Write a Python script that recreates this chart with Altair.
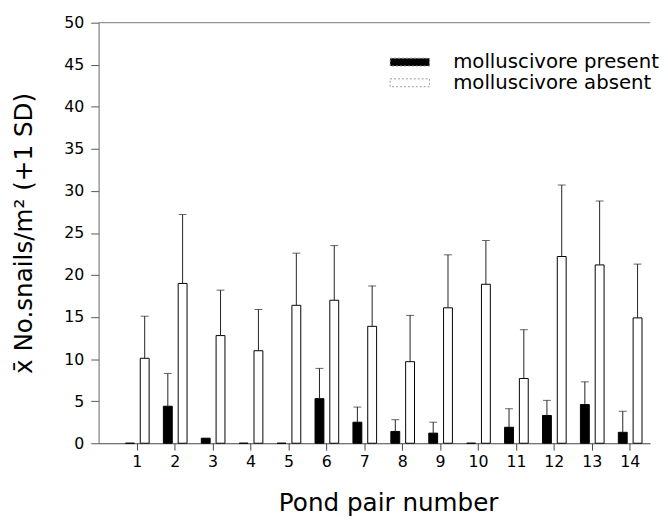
import altair as alt
import pandas as pd

pairs = list(range(1, 15))
present_mean = [0, 4.4, 0.6, 0, 0, 5.3, 2.5, 1.4, 1.2, 0, 1.9, 3.3, 4.6, 1.3]
present_sd = [0, 3.9, 0, 0, 0, 3.6, 1.8, 1.4, 1.3, 0, 2.2, 1.8, 2.7, 2.5]
absent_mean = [10.1, 19.0, 12.8, 11.0, 16.4, 17.0, 13.9, 9.7, 16.1, 18.9, 7.7, 22.2, 21.2, 14.9]
absent_sd = [5.0, 8.2, 5.4, 4.9, 6.2, 6.5, 4.8, 5.5, 6.3, 5.2, 5.8, 8.5, 7.6, 6.4]
groups = ["molluscivore present", "molluscivore absent"]
y_ticks = list(range(0, 55, 5))

rows = []
for i, p in enumerate(pairs):
    rows.append({"pair": p, "group": groups[0], "mean": present_mean[i], "sd": present_sd[i]})
    rows.append({"pair": p, "group": groups[1], "mean": absent_mean[i], "sd": absent_sd[i]})
df = pd.DataFrame(rows)
df["top"] = df["mean"] + df["sd"]

FONT = "DejaVu Sans"
Y_TITLE = "x̄  No.snails/m²  (+1 SD)"

x_scale = alt.Scale(paddingInner=0, paddingOuter=0.274, align=0.95)
x_axis = alt.Axis(
    title="Pond pair number", labelAngle=0, labelFont=FONT, labelFontSize=16,
    labelColor="black", labelPadding=4, tickSize=7, tickColor="#444",
    domainColor="#444", titleFont=FONT, titleFontSize=25, titleFontWeight="normal",
    titleColor="black", titleX=294, titleY=68, titleBaseline="alphabetic",
    titleAlign="center",
)
y_scale = alt.Scale(domain=[0, 50], nice=False)
y_axis = alt.Axis(
    title=Y_TITLE, values=y_ticks, grid=False,
    labelFont=FONT, labelFontSize=16, labelColor="black", labelPadding=7,
    tickSize=8, tickColor="#555", domainColor="#666",
    titleFont=FONT, titleFontSize=25, titleFontWeight="normal", titleColor="black",
    titlePadding=28, titleLimit=1000,
)

x_enc = alt.X("pair:O", scale=x_scale, axis=x_axis, title="Pond pair number")
xoff = alt.XOffset("group:N", sort=groups, scale=alt.Scale(paddingInner=0.4, paddingOuter=0.482))

base = alt.Chart(df)

bars = base.mark_bar(stroke="black", strokeWidth=1).encode(
    x=x_enc,
    xOffset=xoff,
    y=alt.Y("mean:Q", scale=y_scale, axis=y_axis, title=Y_TITLE),
    fill=alt.Fill(
        "group:N",
        scale=alt.Scale(domain=groups, range=["black", "white"]),
        legend=alt.Legend(
            title=None, orient="none", legendX=306, legendY=30,
            symbolType="M-5,-1H5V1H-5Z", symbolSize=64, labelOffset=34,
            labelFont=FONT, labelFontSize=20, labelColor="black", rowPadding=1,
            labelLimit=400,
            symbolStrokeColor="#999", symbolStrokeWidth=1, symbolDash=[2, 2],
            symbolOpacity=1, padding=0,
        ),
    ),
)

err = base.transform_filter("datum.sd > 0")
rules = err.mark_rule(color="#222", strokeWidth=1).encode(
    x=x_enc, xOffset=xoff,
    y=alt.Y("mean:Q", scale=y_scale, axis=y_axis, title=Y_TITLE), y2="top:Q"
)
caps = err.mark_tick(color="#222", thickness=1, size=8).encode(
    x=x_enc, xOffset=xoff,
    y=alt.Y("top:Q", scale=y_scale, axis=y_axis, title=Y_TITLE)
)

topline = alt.Chart(pd.DataFrame({"v": [50]})).mark_rule(color="#777", strokeWidth=1).encode(
    y=alt.Y("v:Q", scale=y_scale, axis=y_axis, title=Y_TITLE)
)

chart = alt.layer(bars, rules, caps, topline).properties(
    width=560, height=427,
    padding={"left": 3, "top": 3, "right": 0, "bottom": 0},
).configure_view(stroke=None)

chart.save("out.html", embed_options={"renderer": "svg", "actions": False})
